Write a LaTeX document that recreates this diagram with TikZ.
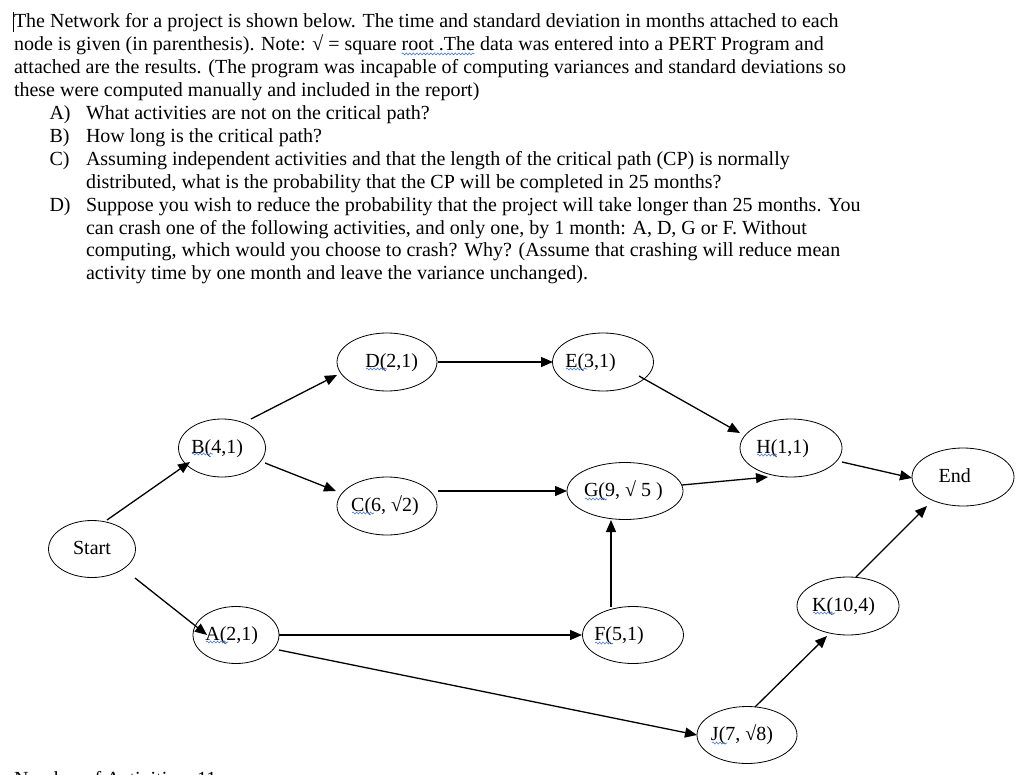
\documentclass[tikz,border=0pt]{standalone}
\usepackage{fontspec}
\setmainfont{Liberation Serif}
\usetikzlibrary{arrows.meta,calc,decorations.pathmorphing,shapes.geometric}
\definecolor{spellblue}{RGB}{70,120,220}
\newcommand\lab[2]{\makebox[0pt]{\hspace{#1pt}\raisebox{-3pt}{#2}}}
\begin{document}
\begin{tikzpicture}[x=1pt,y=-1pt,
  every node/.style={font=\fontsize{20}{23}\selectfont},
  txt/.style={inner sep=0pt, outer sep=0pt, anchor=base west},
  ev/.style={ellipse, draw, line width=0.8pt, inner sep=0pt, text height=0.69em, text depth=0.22em},
  arr/.style={line width=1.3pt, -{Triangle[length=12pt,width=10pt]}},
  spell/.style={draw=spellblue, line width=0.6pt, decorate, decoration={snake, amplitude=1pt, segment length=3.5pt}}
]
\useasboundingbox (0,0) rectangle (1027,775);

% ---------- question text ----------
\draw[line width=0.8pt] (13,12) -- (13,32);
\node[txt] (l1) at (14,28.0) {The Network for a project is shown below. The time and standard deviation in months attached to each};
\node[txt] (l2a) at (14,50.9) {node is given (in parenthesis). Note: √ = square};
\node[txt] (l2b) at ([xshift=5pt]l2a.base east) {root .The};
\node[txt] (l2c) at ([xshift=5pt]l2b.base east) {data was entered into a PERT Program and};
\draw[spell] ([yshift=-3pt]l2b.base west) -- ([yshift=-3pt]l2b.base east);
\node[txt] (l3) at (14,73.8) {attached are the results. (The program was incapable of computing variances and standard deviations so};
\node[txt] (l4) at (14,96.7) {these were computed manually and included in the report)};
\node[txt] (qa) at (49.5,119.6) {A)};
\node[txt] (qat) at (86,119.6) {What activities are not on the critical path?};
\node[txt] (qb) at (49.5,142.5) {B)};
\node[txt] (qbt) at (86,142.5) {How long is the critical path?};
\node[txt] (qc) at (49.5,165.4) {C)};
\node[txt] (qct1) at (86,165.4) {Assuming independent activities and that the length of the critical path (CP) is normally};
\node[txt] (qct2) at (86,188.3) {distributed, what is the probability that the CP will be completed in 25 months?};
\node[txt] (qd) at (49.5,211.2) {D)};
\node[txt] (qdt1) at (86,211.2) {Suppose you wish to reduce the probability that the project will take longer than 25 months. You};
\node[txt] (qdt2) at (86,234.1) {can crash one of the following activities, and only one, by 1 month: A, D, G or F. Without};
\node[txt] (qdt3) at (86,257.0) {computing, which would you choose to crash? Why? (Assume that crashing will reduce mean};
\node[txt] (qdt4) at (86,279.9) {activity time by one month and leave the variance unchanged).};

% ---------- network ----------
\node[ev, minimum width=87pt, minimum height=57pt] (Start) at (92,549) {\lab{0}{Start}};
\node[ev, minimum width=86pt, minimum height=57pt] (A) at (236,635) {\lab{-8.6}{A(2,1)}};
\node[ev, minimum width=87pt, minimum height=58pt] (B) at (222,448) {\lab{-9.6}{B(4,1)}};
\node[ev, minimum width=100pt, minimum height=58pt] (D) at (387,362) {\lab{9.4}{D(2,1)}};
\node[ev, minimum width=101pt, minimum height=58pt] (E) at (603,362) {\lab{-24.8}{E(3,1)}};
\node[ev, minimum width=100pt, minimum height=58pt] (C) at (387,506) {\lab{-4}{C(6, √2)}};
\node[ev, minimum width=116pt, minimum height=57pt] (G) at (625,491) {\lab{-3.2}{G(9, √ 5 )}};
\node[ev, minimum width=102pt, minimum height=58pt] (H) at (791,448) {\lab{-16.6}{H(1,1)}};
\node[ev, minimum width=102pt, minimum height=58pt] (End) at (963,477) {\lab{-16.6}{End}};
\node[ev, minimum width=102pt, minimum height=58pt] (K) at (848,606) {\lab{-8.8}{K(10,4)}};
\node[ev, minimum width=101pt, minimum height=57pt] (F) at (633,635) {\lab{-28}{F(5,1)}};
\node[ev, minimum width=100pt, minimum height=57pt] (J) at (747,735) {\lab{-10}{J(7, √8)}};

% spell-check marks
\draw[spell] ($(D.center)+(-21,7)$) -- ++(21,0);
\draw[spell] ($(E.center)+(-37,7)$) -- ++(21,0);
\draw[spell] ($(B.center)+(-30,6)$) -- ++(21,0);
\draw[spell] ($(C.center)+(-35,7)$) -- ++(22,0);
\draw[spell] ($(G.center)+(-40,8)$) -- ++(22,0);
\draw[spell] ($(H.center)+(-34,7)$) -- ++(20,0);
\draw[spell] ($(K.center)+(-35,7)$) -- ++(22,0);
\draw[spell] ($(F.center)+(-38,8)$) -- ++(18,0);
\draw[spell] ($(J.center)+(-35,8)$) -- ++(15,0);
\draw[spell] ($(A.center)+(-30,7)$) -- ++(22,0);

% connectors
\draw[arr] ($(Start.center)+(15,-29)$) -- ($(B.center)+(-32,14)$);
\draw[arr] ($(Start.center)+(43,29)$) -- ($(A.center)+(-29,0)$);
\draw[arr] ($(B.center)+(29,-29)$) -- ($(D.center)+(-50,13)$);
\draw[arr] ($(B.center)+(43,15)$) -- ($(C.center)+(-51,-15)$);
\draw[arr] ($(D.center)+(51,0)$) -- ($(E.center)+(-50,0)$);
\draw[arr] ($(C.center)+(51,-15)$) -- ($(G.center)+(-58,0)$);
\draw[arr] ($(E.center)+(36,14)$) -- ($(H.center)+(-51,-15)$);
\draw[arr] ($(G.center)+(57,-6)$) -- ($(H.center)+(-23,29)$);
\draw[arr] ($(H.center)+(51,14)$) -- ($(End.center)+(-51,1)$);
\draw[arr] ($(K.center)+(8,-29)$) -- ($(End.center)+(-36,29)$);
\draw[arr] ($(F.center)+(-22,-28)$) -- ($(G.center)+(-14,29)$);
\draw[arr] ($(A.center)+(43,0)$) -- ($(F.center)+(-51,0)$);
\draw[arr] ($(A.center)+(43,15)$) -- ($(J.center)+(-50,0)$);
\draw[arr] ($(J.center)+(8,-28)$) -- ($(K.center)+(-21,30)$);

% cut-off line at the bottom
\node[txt] (na) at (14,785) {Number of Activities};
\node[txt] (nb) at (197,785) {11};
\end{tikzpicture}
\end{document}
